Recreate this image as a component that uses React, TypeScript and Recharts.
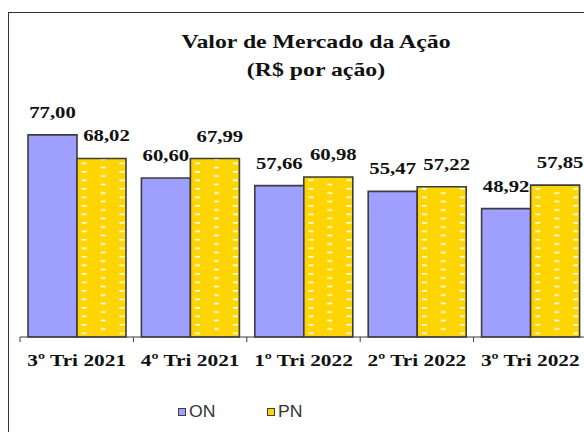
import type React from "react";
import { Bar, BarChart, LabelList, XAxis, YAxis } from "recharts";

const categories: string[] = [
	"3º Tri 2021",
	"4º Tri 2021",
	"1º Tri 2022",
	"2º Tri 2022",
	"3º Tri 2022",
];
const onValues: number[] = [77.0, 60.6, 57.66, 55.47, 48.92];
const pnValues: number[] = [68.02, 67.99, 60.98, 57.22, 57.85];
const seriesNames: string[] = ["ON", "PN"];

const chartData = categories.map((name, i) => ({
	name,
	ON: onValues[i],
	PN: pnValues[i],
}));

const SERIF = "Liberation Serif";
const SANS = "Liberation Sans";
const STRETCH = 1.22;
const ON_COLOR = "#9f9fff";
const PN_COLOR = "#ffd500";
const EDGE = "#3d3d3d";

const fmt = (v: number) => v.toFixed(2).replace(".", ",");

// rótulos de dados (um pouco "esticados" como no Excel)
const makeLabel =
	(dx: number) =>
	(props: any): React.ReactElement => {
		const { x, y, width, value } = props;
		const cx = Number(x) + Number(width) / 2 + dx;
		const by = Number(y) - 17;
		return (
			<text
				x={0}
				y={0}
				transform={`translate(${cx},${by}) scale(${STRETCH},1)`}
				textAnchor="middle"
				fontFamily={SERIF}
				fontWeight="bold"
				fontSize={17}
				fill="#111"
			>
				{fmt(Number(value))}
			</text>
		);
	};

const CategoryTick = (props: any) => {
	const { x, y, payload, index } = props;
	const half = payload?.offset ?? 56.7;
	const isLast = index === categories.length - 1;
	return (
		<g>
			<line x1={x - half} x2={x - half} y1={y} y2={y + 5} stroke={EDGE} />
			{isLast && (
				<line x1={x + half} x2={x + half} y1={y} y2={y + 5} stroke={EDGE} />
			)}
			<text
				x={0}
				y={0}
				transform={`translate(${x},${y + 29}) scale(${STRETCH},1)`}
				textAnchor="middle"
				fontFamily={SERIF}
				fontWeight="bold"
				fontSize={17.5}
				fill="#111"
			>
				{payload.value}
			</text>
		</g>
	);
};

const LegendBox = () => {
	const colors = [ON_COLOR, PN_COLOR];
	return (
		<div
			style={{
				position: "absolute",
				left: 178,
				top: 403,
				display: "flex",
				alignItems: "center",
			}}
		>
			{seriesNames.map((label, i) => (
				<span
					key={label}
					style={{
						display: "inline-flex",
						alignItems: "center",
						marginRight: 54,
					}}
				>
					<span
						style={{
							width: 6,
							height: 6,
							background: colors[i],
							border: `1.5px solid ${EDGE}`,
							marginRight: 3,
						}}
					/>
					<span
						style={{
							fontFamily: SANS,
							fontSize: 16,
							color: "#333",
							display: "inline-block",
							transform: "scaleX(1.1)",
							transformOrigin: "left center",
						}}
					>
						{label}
					</span>
				</span>
			))}
		</div>
	);
};

export default function App() {
	return (
		<div
			style={{
				position: "fixed",
				left: 0,
				top: 0,
				width: 584,
				height: 432,
				overflow: "hidden",
				background: "#fff",
			}}
		>
			<div
				style={{
					position: "absolute",
					left: 8,
					top: 12,
					width: 640,
					height: 460,
					border: "1.5px solid #333",
				}}
			/>
			<div
				style={{
					position: "absolute",
					left: 316,
					top: 28,
					transform: `translateX(-50%) scaleX(${STRETCH})`,
					fontFamily: SERIF,
					fontWeight: "bold",
					fontSize: 19.5,
					lineHeight: "28px",
					textAlign: "center",
					whiteSpace: "nowrap",
					color: "#111",
				}}
			>
				<div>Valor de Mercado da Ação</div>
				<div>(R$ por ação)</div>
			</div>
			<BarChart
				width={600}
				height={432}
				data={chartData}
				margin={{ top: 127, right: 13, bottom: 65, left: 20 }}
				barCategoryGap={8}
				barGap={0}
			>
				<defs>
					<pattern
						id="pnPattern"
						patternUnits="userSpaceOnUse"
						x={76.7}
						y={0}
						width={37.8}
						height={8.5}
					>
						<rect width={37.8} height={8.5} fill={PN_COLOR} />
						<rect x={5} y={1} width={5} height={1.6} fill="#fff" />
						<rect x={23.9} y={5.25} width={5} height={1.6} fill="#fff" />
					</pattern>
				</defs>
				<XAxis
					dataKey="name"
					height={30}
					axisLine={{ stroke: EDGE, strokeWidth: 1.2 }}
					tickLine={false}
					tickSize={0}
					tickMargin={0}
					interval={0}
					tick={<CategoryTick />}
				/>
				<YAxis hide domain={[0, 80]} />
				<Bar
					dataKey="ON"
					fill={ON_COLOR}
					stroke={EDGE}
					strokeWidth={1.6}
					isAnimationActive={false}
				>
					<LabelList dataKey="ON" content={makeLabel(0)} />
				</Bar>
				<Bar
					dataKey="PN"
					fill="url(#pnPattern)"
					stroke={EDGE}
					strokeWidth={1.6}
					isAnimationActive={false}
				>
					<LabelList dataKey="PN" content={makeLabel(5)} />
				</Bar>
			</BarChart>
			<LegendBox />
		</div>
	);
}
